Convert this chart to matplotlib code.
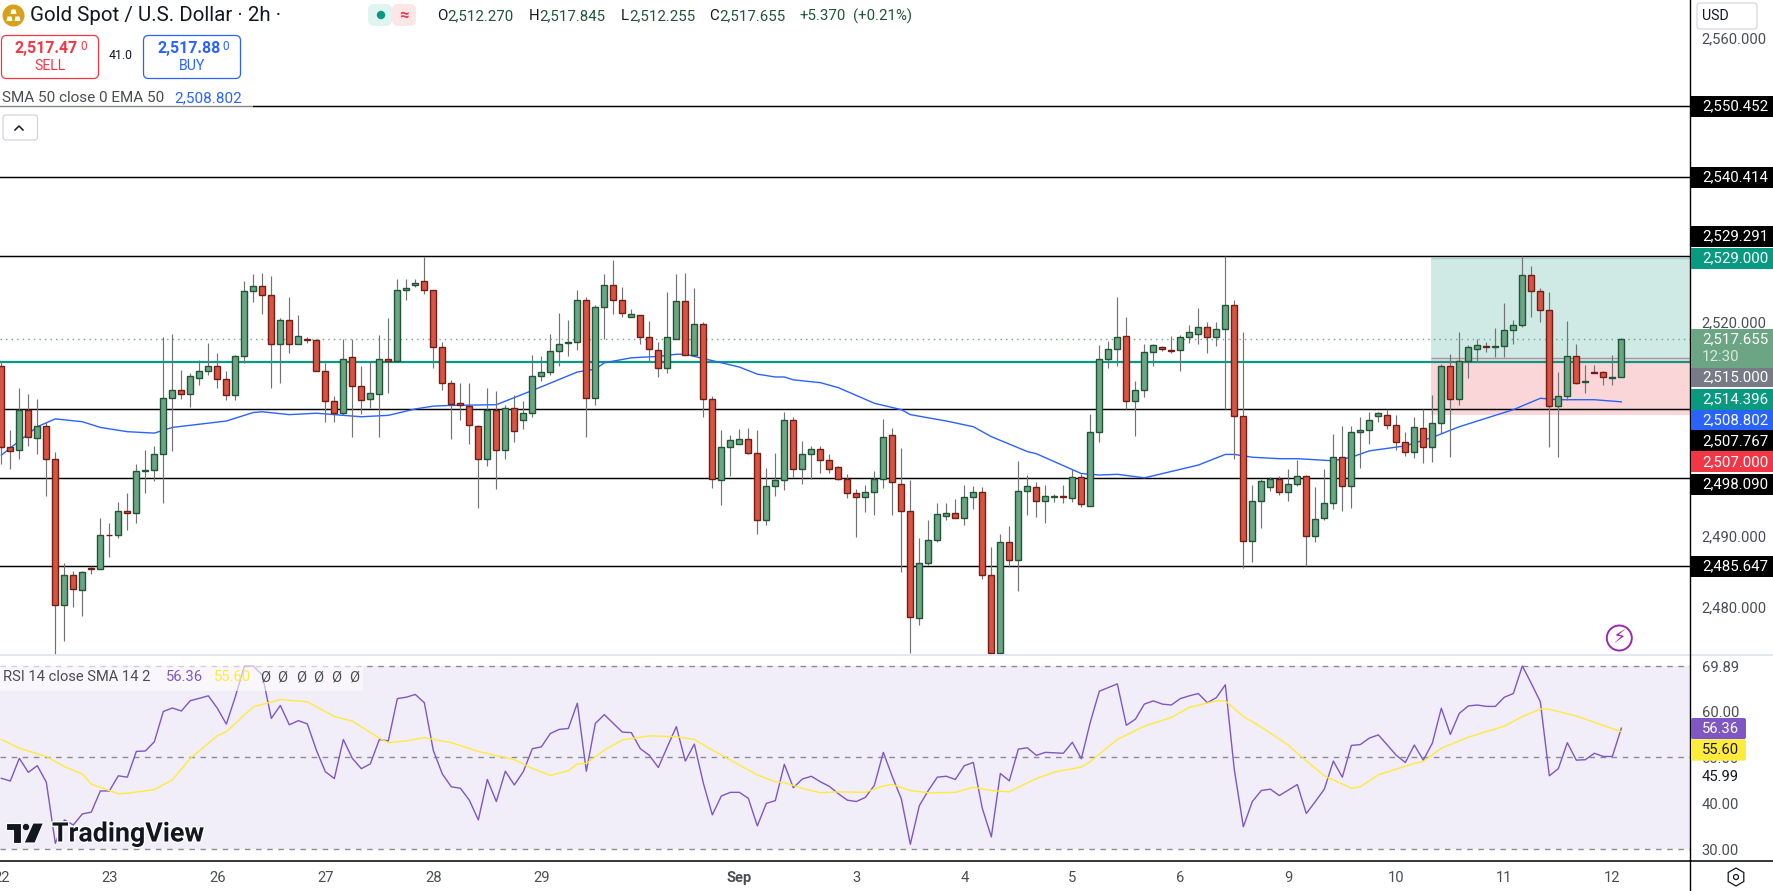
import matplotlib
matplotlib.use("Agg")
import matplotlib.pyplot as plt
import matplotlib.patheffects as pe
from matplotlib.patches import Rectangle, FancyBboxPatch, Circle, Polygon, RegularPolygon
import numpy as np

plt.rcParams['font.family'] = ['Roboto', 'DejaVu Sans']

opens = [2513.8,2502.4,2502.0,2507.6,2503.7,2505.4,2500.8,2480.2,2484.4,2482.3,
2485.4,2485.2,2490.1,2490.0,2493.5,2493.1,2499.1,2499.2,2501.4,2509.3,
2510.4,2509.9,2512.1,2513.1,2513.8,2512.0,2509.7,2515.2,2524.4,2525.1,
2523.9,2517.0,2520.3,2517.0,2517.7,2517.5,2513.2,2508.9,2507.3,2515.1,
2511.1,2509.2,2509.9,2514.9,2514.5,2524.5,2525.2,2525.8,2524.5,2516.5,
2511.5,2508.6,2508.2,2505.4,2500.7,2507.6,2502.0,2508.0,2506.2,2507.2,
2512.4,2513.0,2515.9,2517.1,2517.2,2523.2,2509.3,2522.2,2525.3,2523.1,
2520.8,2521.0,2517.9,2516.1,2513.5,2517.7,2523.0,2515.4,2519.7,2509.2,
2497.8,2502.4,2502.8,2503.5,2501.6,2492.1,2497.0,2497.8,2506.3,2499.4,
2501.4,2502.1,2500.6,2499.6,2497.9,2495.9,2495.4,2496.1,2497.9,2504.1,
2497.3,2493.4,2478.3,2486.1,2489.4,2492.7,2493.2,2492.4,2495.4,2496.1,
2484.4,2473.4,2489.0,2486.6,2496.3,2496.8,2494.8,2495.4,2495.5,2495.2,
2498.2,2494.2,2504.5,2514.8,2516.3,2518.0,2508.9,2510.4,2515.8,2516.5,
2516.1,2516.1,2517.9,2518.4,2519.3,2517.9,2519.0,2522.4,2506.8,2489.2,
2494.8,2496.8,2498.0,2496.1,2497.2,2498.3,2489.9,2492.4,2494.5,2501.0,
2496.9,2504.5,2504.8,2506.8,2507.0,2505.5,2503.1,2501.8,2505.1,2502.4,
2505.8,2513.9,2509.2,2514.5,2516.3,2516.6,2516.5,2516.6,2518.9,2519.6,
2526.6,2524.4,2521.8,2508.2,2509.6,2515.2,2511.6,2513.0,2513.0,2512.2,2512.27]

closes = [2502.4,2501.9,2507.6,2503.8,2505.4,2500.8,2480.2,2484.4,2482.4,2484.8,
2485.3,2490.0,2490.0,2493.5,2493.1,2499.0,2499.2,2501.4,2509.3,2510.4,
2509.9,2512.5,2513.1,2513.8,2512.0,2509.7,2515.2,2524.4,2525.1,2523.9,
2517.0,2520.3,2517.0,2518.0,2517.5,2513.2,2508.9,2507.3,2514.9,2511.1,
2509.0,2510.0,2514.8,2514.5,2524.5,2524.8,2525.6,2524.5,2516.5,2511.5,
2508.5,2508.3,2505.5,2500.7,2507.6,2502.0,2508.0,2504.7,2507.3,2512.4,
2513.0,2515.9,2516.9,2517.2,2523.2,2509.3,2522.2,2525.3,2523.1,2521.3,
2521.1,2517.9,2516.2,2513.5,2517.9,2523.0,2515.4,2519.7,2509.2,2497.9,
2502.4,2503.4,2503.5,2501.6,2492.1,2497.0,2497.8,2506.3,2499.3,2501.4,
2502.1,2500.6,2499.4,2497.9,2495.9,2495.4,2496.1,2498.0,2503.9,2497.5,
2493.4,2478.5,2486.1,2489.4,2493.0,2493.2,2492.4,2495.4,2496.1,2484.4,
2473.4,2489.0,2486.6,2496.3,2496.9,2494.8,2495.5,2495.5,2495.4,2498.2,
2494.4,2504.5,2514.8,2516.3,2517.9,2508.9,2510.4,2515.8,2516.8,2516.2,
2516.0,2517.9,2518.6,2519.3,2517.9,2519.0,2522.4,2506.8,2489.2,2494.8,
2497.6,2498.0,2496.1,2497.2,2498.3,2489.9,2492.3,2494.5,2501.0,2496.9,
2504.5,2504.8,2506.3,2507.2,2505.5,2503.1,2501.8,2505.2,2502.4,2505.8,
2513.9,2509.2,2514.5,2516.5,2516.8,2516.5,2516.6,2518.9,2519.6,2526.6,
2524.4,2521.8,2508.2,2509.6,2515.2,2511.5,2511.7,2512.9,2512.3,2512.3,2517.655]

highs = [2514.5,2504.8,2510.8,2509.9,2509.2,2506.0,2501.7,2486.1,2485.0,2485.0,
2485.7,2492.4,2491.7,2494.7,2496.0,2500.0,2502.0,2502.6,2517.9,2518.4,
2513.3,2512.8,2514.7,2517.1,2515.7,2513.1,2515.4,2525.8,2526.8,2526.9,
2526.5,2520.6,2523.6,2521.0,2517.9,2517.7,2514.3,2509.6,2517.6,2517.6,
2513.8,2514.5,2518.2,2520.6,2526.1,2526.1,2526.1,2529.2,2524.5,2517.2,
2511.9,2511.5,2511.5,2505.5,2510.8,2510.3,2508.4,2509.8,2508.9,2515.4,
2515.3,2518.4,2521.3,2520.3,2524.5,2523.6,2522.4,2526.8,2528.8,2525.0,
2521.9,2521.0,2520.2,2517.2,2524.3,2526.8,2526.9,2524.8,2520.0,2509.6,
2504.8,2504.1,2505.0,2505.1,2504.8,2499.5,2501.6,2507.4,2506.7,2503.3,
2502.6,2502.6,2501.5,2499.8,2498.6,2496.5,2497.1,2499.0,2506.4,2505.1,
2502.3,2497.8,2489.6,2492.2,2494.6,2494.6,2495.1,2497.1,2497.0,2496.8,
2488.4,2490.2,2491.3,2500.5,2498.5,2497.5,2497.1,2495.8,2497.1,2499.3,
2498.7,2507.1,2516.8,2517.4,2523.6,2520.7,2511.7,2516.9,2516.9,2516.6,
2518.1,2518.2,2519.6,2522.0,2520.0,2520.0,2529.3,2523.1,2518.6,2497.1,
2498.0,2498.2,2498.3,2499.3,2500.6,2498.5,2496.8,2499.3,2504.3,2505.4,
2505.4,2506.7,2507.4,2507.4,2507.8,2507.0,2504.6,2506.7,2507.8,2509.8,
2514.1,2515.5,2518.6,2516.8,2517.6,2517.2,2519.2,2522.7,2520.3,2529.3,
2527.9,2524.8,2524.3,2513.0,2520.2,2516.9,2514.0,2514.0,2513.1,2515.4,2517.845]

lows = [2500.1,2499.4,2500.8,2502.6,2501.4,2495.5,2473.2,2475.2,2479.9,2478.7,
2484.5,2485.2,2486.9,2489.7,2490.8,2491.8,2495.9,2497.6,2494.6,2501.9,
2509.2,2508.1,2511.2,2512.6,2510.8,2509.1,2509.0,2514.3,2522.8,2521.1,
2510.8,2511.5,2515.7,2517.0,2517.1,2513.2,2506.0,2506.0,2506.9,2503.8,
2507.1,2508.0,2503.8,2510.1,2514.5,2523.2,2525.0,2524.0,2513.6,2510.5,
2503.5,2506.2,2502.8,2493.8,2499.7,2496.6,2500.8,2503.1,2505.0,2506.6,
2511.8,2512.6,2513.9,2515.3,2516.1,2503.8,2508.4,2517.6,2521.2,2520.8,
2520.7,2516.9,2514.4,2512.3,2512.8,2517.6,2515.4,2515.2,2506.6,2496.7,
2494.3,2498.4,2502.8,2501.4,2490.2,2491.5,2495.5,2496.4,2498.2,2497.3,
2497.9,2498.8,2498.8,2497.8,2495.2,2489.8,2493.3,2492.9,2496.7,2492.8,
2484.9,2473.5,2477.4,2485.8,2489.1,2492.2,2492.4,2491.5,2493.7,2483.9,
2473.2,2473.2,2485.6,2482.2,2492.9,2492.6,2491.7,2494.7,2494.6,2494.7,
2494.0,2494.2,2503.2,2513.5,2513.9,2507.8,2504.0,2509.5,2513.8,2515.9,
2515.7,2513.2,2517.1,2516.9,2515.7,2516.6,2507.8,2500.7,2485.4,2486.2,
2491.0,2496.3,2495.7,2494.9,2496.9,2485.7,2489.1,2492.2,2493.7,2493.5,
2493.8,2499.5,2502.8,2506.0,2505.0,2502.0,2501.2,2500.9,2500.2,2500.4,
2504.4,2501.1,2508.4,2512.2,2514.4,2515.8,2515.1,2515.1,2517.0,2519.3,
2520.7,2520.0,2502.4,2501.1,2509.0,2511.3,2510.0,2512.8,2511.2,2511.2,2512.255]

ema_idx = [0,2,4,6,9,11,14,17,19,25,28,29,32,35,40,43,46,48,50,55,59,64,66,67,70,73,75,76,78,
82,84,86,87,88,91,93,97,99,100,101,105,108,110,114,115,120,122,124,127,133,136,137,139,142,
144,148,150,152,156,159,162,168,171,173,177,180]
ema_val = [2501.3,2503.3,2505.3,2506.4,2506.0,2505.2,2504.6,2504.4,2505.2,2506.1,2507.3,2507.4,
2507.0,2507.2,2506.7,2506.9,2507.8,2508.2,2508.3,2508.4,2510.4,2513.0,2513.4,2514.3,2515.0,
2515.2,2515.5,2515.5,2514.9,2513.7,2512.7,2512.3,2512.3,2511.9,2511.5,2510.8,2508.6,2508.0,
2507.7,2507.0,2506.1,2505.3,2503.9,2501.8,2501.5,2498.7,2498.5,2498.6,2498.1,2499.9,2501.4,
2501.4,2501.0,2500.8,2500.8,2500.5,2501.0,2501.9,2502.6,2503.8,2505.3,2507.7,2509.3,2509.1,
2509.1,2508.802]

rsi = [45.45,44.87,49.8,46.75,48.2,44.6,31.3,36.4,35.3,37.7,
38.1,42.7,42.7,46.0,45.7,51.3,51.4,53.4,60.0,60.75,
60.1,62.35,62.85,63.4,60.7,57.25,63.2,69.89,69.89,67.9,
58.5,61.3,57.1,58.0,57.3,51.6,46.9,45.4,53.9,49.8,
47.55,48.6,53.9,53.6,62.8,63.1,63.7,61.9,51.5,46.4,
43.6,43.3,40.7,36.4,45.2,40.4,47.0,44.0,46.9,51.9,
52.3,55.2,56.1,56.3,61.8,47.0,57.4,59.3,57.4,55.5,
55.4,51.9,50.45,47.8,52.3,56.7,49.2,52.9,44.4,37.5,
41.6,42.4,42.4,41.1,35.1,40.0,40.6,48.5,43.4,45.3,
45.9,44.7,43.7,42.1,40.7,40.4,41.3,43.9,51.1,45.8,
41.0,31.1,39.5,42.8,45.7,45.9,45.2,48.2,48.9,38.9,
32.7,46.5,44.9,51.8,52.1,50.45,51.1,51.0,50.9,53.3,
49.7,57.7,64.4,65.2,66.0,57.0,58.3,61.6,62.3,61.6,
61.4,62.8,63.4,63.9,61.9,63.0,65.8,47.3,34.9,40.4,
42.8,43.1,41.7,42.9,44.1,37.8,40.4,43.1,49.2,45.7,
52.6,52.8,54.2,54.9,52.7,50.45,48.9,52.7,49.4,53.1,
60.7,55.0,59.6,61.2,61.4,61.1,61.1,63.1,63.9,69.89,
66.1,62.1,46.0,47.55,53.2,49.4,49.5,50.9,50.2,50.2,56.36]

rsi_sma_idx = [0,2,5,7,9,10,13,14,17,19,21,24,25,28,31,34,37,39,42,43,45,47,50,53,57,59,61,63,64,65,67,69,
72,75,77,79,84,86,87,89,91,93,96,98,99,101,103,106,108,110,112,113,115,117,120,121,124,127,130,132,
135,136,138,140,143,144,147,150,151,153,157,158,160,163,167,169,171,172,175,180]
rsi_sma = [53.9,52.0,50.2,48.0,46.4,44.2,42.1,42.2,43.0,45.1,49.8,54.7,55.6,61.0,62.6,62.1,58.9,57.9,54.2,53.2,
53.6,54.3,53.2,51.3,49.5,47.6,46.1,47.1,48.6,48.7,51.6,53.8,54.7,54.5,53.9,51.6,46.2,44.7,44.5,43.3,42.3,
42.5,42.4,43.8,44.1,42.8,42.3,42.4,43.5,42.8,42.5,43.5,45.4,46.8,47.9,49.1,53.9,56.8,58.7,60.9,62.3,62.3,
58.9,56.6,52.7,50.9,46.0,43.3,43.6,46.2,48.7,49.1,52.0,54.4,56.8,58.9,60.5,60.5,59.0,55.60]

level_lines = [2550.452, 2540.414, 2529.291, 2507.767, 2498.090, 2485.647]
ma_level = 2514.396
last_price = 2517.655
pos_top, pos_entry, pos_stop = 2529.0, 2515.0, 2507.0
pos_start = 158.8
price_ticks = [2480, 2490, 2520, 2560]
rsi_ticks = [30, 40, 50, 60, 69.89]
rsi_bands = [30, 50, 69.89]
date_pos = [0, 12, 24, 36, 48, 60, 82, 95, 107, 119, 131, 143, 155, 167, 179]
date_lab = ['22', '23', '26', '27', '28', '29', 'Sep', '3', '4', '5', '6', '9', '10', '11', '12']

W, H = 1773, 891
AX_R, MAIN_B, RSI_B = 1690.0, 655.0, 860.7
XL = (-1.33 / 9, (AX_R - 1.33) / 9)

fig = plt.figure(figsize=(W / 100, H / 100), dpi=100, facecolor='white')
ax = fig.add_axes([0, 1 - MAIN_B / H, AX_R / W, MAIN_B / H])
ar = fig.add_axes([0, 1 - RSI_B / H, AX_R / W, (RSI_B - MAIN_B) / H])

GREEN, GREEN_E, RED, RED_E, WICK = '#6ba583', '#225437', '#d75442', '#6f1f18', '#737375'
TICK = '#4a4d55'
o, h, l, c = map(np.array, (opens, highs, lows, closes))
x = np.arange(len(o))
up = c >= o

ax.set_xlim(*XL)
ax.set_ylim(2529.291 - (MAIN_B - 256.3) / 7.103, 2529.291 + 256.3 / 7.103)
ax.axhspan(pos_entry, pos_top, xmin=(pos_start - XL[0]) / (XL[1] - XL[0]), color='#cfe9e4', lw=0, zorder=1)
ax.axhspan(pos_stop, pos_entry, xmin=(pos_start - XL[0]) / (XL[1] - XL[0]), color='#fbd6d9', lw=0, zorder=1)
ax.hlines(pos_top, pos_start, XL[1], color='#a5d8cf', lw=1, zorder=1.5)
ax.hlines(pos_entry, pos_start, XL[1], color='#9a9aa2', lw=1, zorder=2.5)
ax.axhline(ma_level, color='#089981', lw=1.6, zorder=2)
ax.axhline(last_price, color=GREEN, lw=1, ls=(0, (1, 3)), zorder=2)
for v in level_lines:
    ax.axhline(v, color='black', lw=1.05, zorder=2.2)
ax.plot(ema_idx, ema_val, color='#2962ff', lw=1, zorder=3)
ax.vlines(x, l, h, color=WICK, lw=0.85, zorder=4)
ax.bar(x[up], np.maximum(c[up] - o[up], 0.04), bottom=o[up], width=0.68,
       color=GREEN, edgecolor=GREEN_E, linewidth=1.0, zorder=5)
ax.bar(x[~up], np.maximum(o[~up] - c[~up], 0.04), bottom=c[~up], width=0.68,
       color=RED, edgecolor=RED_E, linewidth=1.0, zorder=5)
ax.set_xticks([])
ax.yaxis.tick_right()
ax.set_yticks(price_ticks)
ax.set_yticklabels([f'{v:,.3f}' for v in price_ticks], fontsize=10.6, color=TICK)
ax.tick_params(axis='y', length=0, pad=8.5)
for s in ax.spines.values():
    s.set_visible(False)

ar.set_xlim(*XL)
y_per = (849.33 - 666.0) / 39.89
ar.set_ylim(30 - (RSI_B - 849.33) / y_per, 69.89 + (666.0 - MAIN_B) / y_per)
ar.axhspan(rsi_bands[0], rsi_bands[2], color='#f1edf9', lw=0, zorder=1)
for v in rsi_bands:
    ar.axhline(v, color='#787b86', lw=1, ls=(0, (4, 4)), alpha=0.85, zorder=2)
ar.plot(x, rsi, color='#7e57c2', lw=1, zorder=3)
ar.plot(rsi_sma_idx, rsi_sma, color='#ffeb3b', lw=1, zorder=4)
ar.yaxis.tick_right()
ar.set_yticks(rsi_ticks)
ar.set_yticklabels([f'{v:.2f}' for v in rsi_ticks], fontsize=10.6, color=TICK)
ar.tick_params(axis='y', length=0, pad=8.5)
ar.set_xticks(date_pos)
ar.set_xticklabels(date_lab, fontsize=10.6, color=TICK)
ar.tick_params(axis='x', length=0, pad=7.5)
ar.get_xticklabels()[date_lab.index('Sep')].set_fontweight('bold')
for s in ar.spines.values():
    s.set_visible(False)

# interface chrome, in a pixel overlay
ui = fig.add_axes([0, 0, 1, 1], zorder=10)
ui.set_xlim(0, W)
ui.set_ylim(H, 0)
ui.axis('off')
ui.patch.set_visible(False)


def T(px, py, s, size=10.6, color='#131722', ha='left', va='center', **kw):
    return ui.text(px, py, s, fontsize=size, color=color, ha=ha, va=va, **kw)


ui.plot([0, W], [MAIN_B, MAIN_B], color='#e0e3eb', lw=1.2)
ui.plot([0, W], [RSI_B, RSI_B], color='black', lw=1.1)
ui.plot([AX_R + .4, AX_R + .4], [0, H], color='black', lw=1.0)

# price labels on the right axis
LABELS = [(106.2, '2,550.452', 'black', 'white'), (177.3, '2,540.414', 'black', 'white'),
          (236.5, '2,529.291', 'black', 'white'), (258.5, '2,529.000', '#089981', 'white'),
          (376.8, '2,515.000', '#787b86', 'white'), (399.0, '2,514.396', '#089981', 'white'),
          (420.0, '2,508.802', '#2962ff', 'white'), (440.8, '2,507.767', 'black', 'white'),
          (461.8, '2,507.000', '#f23645', 'white'), (484.0, '2,498.090', 'black', 'white'),
          (566.0, '2,485.647', 'black', 'white')]
for cy, s, bg, fg in LABELS:
    ui.add_patch(Rectangle((AX_R + 1, cy - 10.5), W - AX_R, 21, fc=bg, ec='none', zorder=3))
    T(1702, cy, s, size=10.8, color=fg, zorder=4)
ui.add_patch(Rectangle((AX_R + 1, 329), W - AX_R, 38.6, fc=GREEN, ec='none', zorder=3))
T(1702, 338.8, '2,517.655', size=10.8, color='white', zorder=4)
T(1702, 356.8, '12:30', size=10.8, color='#d9e8de', zorder=4)

# RSI labels
T(1702, 776.7, '45.99', color='#131722')
ui.add_patch(FancyBboxPatch((AX_R + 1, 718), 55, 21, boxstyle='round,pad=0,rounding_size=2', fc='#7e57c2', ec='none', zorder=3))
T(1702, 728.7, '56.36', color='white', zorder=4)
ui.add_patch(FancyBboxPatch((AX_R + 1, 739.3), 55, 21.4, boxstyle='round,pad=0,rounding_size=2', fc='#ffeb3b', ec='none', zorder=3))
T(1702, 750, '55.60', color='#131722', zorder=4)

# header
ui.add_patch(Circle((13.5, 15.5), 11, fc='#d7a21b', ec='none'))
for bx, by in [(13.5, 11.5), (9.5, 18.5), (17.5, 18.5)]:
    ui.add_patch(Polygon([(bx - 3, by + 2.5), (bx - 2, by - 2), (bx + 2, by - 2), (bx + 3, by + 2.5)], fc='white', ec='none'))
T(30, 15.5, 'Gold Spot / U.S. Dollar · 2h ·', size=14.8, color='#131722')
ui.add_patch(FancyBboxPatch((368, 4), 24, 22, boxstyle='round,pad=0,rounding_size=6', fc='#e0f4f0', ec='none'))
ui.add_patch(FancyBboxPatch((392, 4), 24, 22, boxstyle='round,pad=0,rounding_size=6', fc='#fde6e8', ec='none'))
ui.add_patch(Circle((381, 15), 4.2, fc='#089981', ec='none'))
T(404, 15, '≈', size=12, color='#f23645', ha='center', fontweight='bold')
DK = '#225437'
for px, s, col in [(437.5, 'O', '#131722'), (447.5, '2,512.270', DK), (529, 'H', '#131722'), (539, '2,517.845', DK),
                   (620.5, 'L', '#131722'), (629, '2,512.255', DK), (709, 'C', '#131722'), (719, '2,517.655', DK),
                   (799, '+5.370', DK), (853, '(+0.21%)', DK)]:
    T(px, 16, s, size=10.8, color=col)
ui.add_patch(FancyBboxPatch((1.5, 35.5), 97, 43, boxstyle='round,pad=0,rounding_size=5', fc='white', ec='#f23645', lw=0.9))
ui.add_patch(FancyBboxPatch((143.5, 35.5), 97, 43, boxstyle='round,pad=0,rounding_size=5', fc='white', ec='#2962ff', lw=0.9))
T(14.5, 48.5, '2,517.47', size=11.4, color='#f23645', fontweight='bold')
T(80, 47, '0', size=8.6, color='#f23645')
T(50, 66.5, 'SELL', size=10.2, color='#f23645', ha='center')
T(121, 55.7, '41.0', size=8.8, color='#131722', ha='center')
T(158, 48.5, '2,517.88', size=11.4, color='#2962ff', fontweight='bold')
T(222, 47, '0', size=8.6, color='#2962ff')
T(192, 66.5, 'BUY', size=10.2, color='#2962ff', ha='center')
ui.add_patch(Rectangle((0, 89), 253, 19, fc='white', ec='none', alpha=0.55))
T(2, 98, 'SMA 50 close 0 EMA 50', size=11, color='#4a4d55')
T(174.5, 98, '2,508.802', size=11, color='#2962ff')
ui.add_patch(FancyBboxPatch((3, 115), 34.5, 25, boxstyle='round,pad=0,rounding_size=3', fc='white', ec='#d1d4dc', lw=0.9))
ui.plot([15, 19, 23], [130, 126, 130], color='#131722', lw=1.1)

# currency box
ui.add_patch(FancyBboxPatch((1697, 3), 60, 26, boxstyle='round,pad=0,rounding_size=3', fc='white', ec='#d1d4dc', lw=0.8, zorder=5))
T(1702, 16, 'USD', size=10.2, color='#131722', zorder=6)

# RSI legend
ui.add_patch(Rectangle((0, 662), 363, 29, fc='white', ec='none', alpha=0.6))
T(3, 677, 'RSI 14 close SMA 14 2', size=10.6, color='#4a4d55')
T(166, 677, '56.36', size=10.6, color='#7e57c2')
T(214, 677, '55.60', size=10.6, color='#ffeb3b')
for px in [265.6, 282.6, 300.8, 318.4, 336, 354]:
    T(px, 677, 'Ø', size=10.6, color='#4a4d55', ha='center')

# watermark
ui.add_patch(Polygon([(6, 823), (21, 823), (21, 843), (13, 843), (13, 830), (6, 830)], fc='#131722', ec='white', lw=0.8))
ui.add_patch(Circle((26, 827), 3.6, fc='#131722', ec='white', lw=0.5))
ui.add_patch(Polygon([(33, 823), (43.5, 823), (35, 843), (24, 843)], fc='#131722', ec='white', lw=0.8))
T(52, 834, 'TradingView', size=19.3, color='#131722', fontweight='bold',
  path_effects=[pe.withStroke(linewidth=2, foreground='white')])

# icons
ui.add_patch(Circle((1619.3, 638), 12.5, fc='none', ec='#9c27b0', lw=1.4))
ui.text(1619.3, 638, '⚡', fontsize=14, color='#9c27b0', ha='center', va='center', family='DejaVu Sans')
ui.add_patch(RegularPolygon((1736, 877), 6, radius=9, fc='none', ec='#131722', lw=0.9))
ui.add_patch(Circle((1736, 877), 2.5, fc='none', ec='#131722', lw=0.9))

fig.savefig('out.png', dpi=100, facecolor='white')
